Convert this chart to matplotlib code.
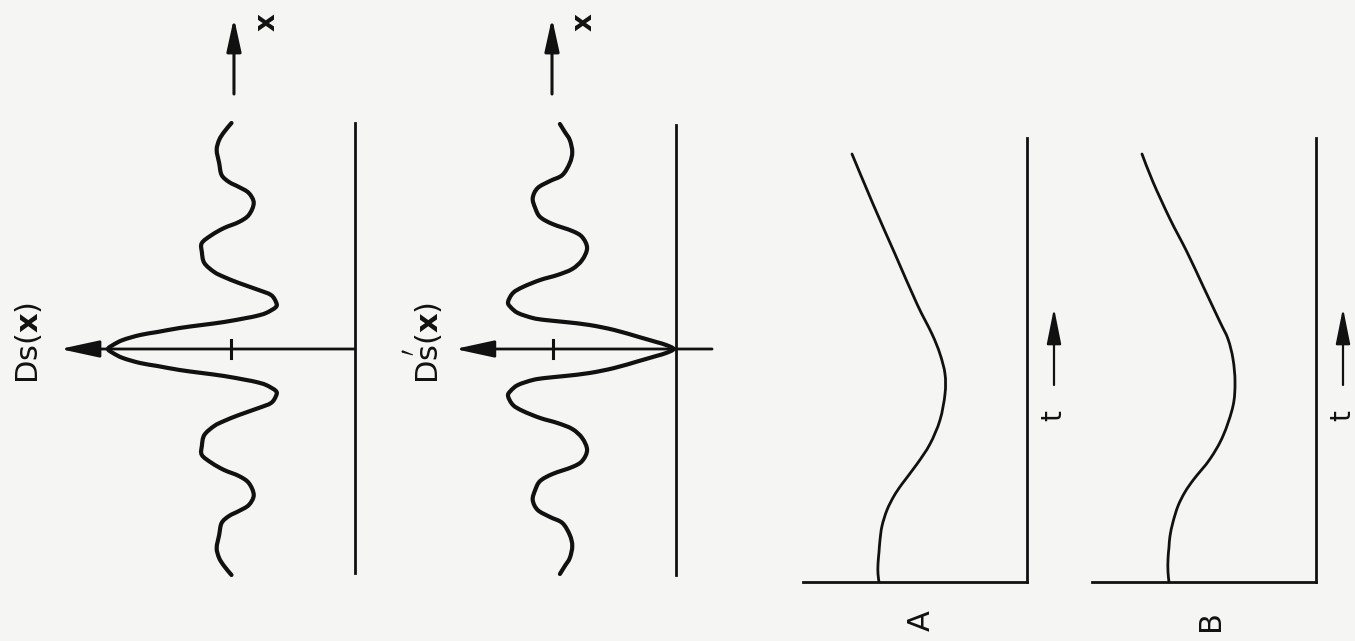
"""Ds(x) / D's(x) 分布と A, B の時間変化を描いた模式図 (90度回転した配置)."""

import matplotlib

matplotlib.use("Agg")

import matplotlib.pyplot as plt
import numpy as np
from matplotlib.patches import PathPatch
from matplotlib.path import Path

W, H = 1355, 641
BG = "#f5f5f3"
INK = "#111111"

# Ds(x): 片側プロファイル (x=0 について対称), D はピーク値で規格化
X1_HALF = [0, 4, 9, 14, 17, 21, 24, 27, 31, 33, 36, 42, 47, 54, 59, 66, 72, 77,
           86, 97, 106, 114, 121, 127, 134, 146, 156, 162, 167, 174, 186, 199,
           209, 217, 226]
DS_HALF = [1.00, 0.98, 0.94, 0.87, 0.80, 0.71, 0.62, 0.53, 0.44, 0.40, 0.36,
           0.32, 0.32, 0.34, 0.39, 0.47, 0.53, 0.57, 0.61, 0.62, 0.62, 0.58,
           0.53, 0.47, 0.43, 0.41, 0.43, 0.47, 0.51, 0.54, 0.55, 0.56, 0.55,
           0.53, 0.50]

# D's(x): 片側プロファイル
X2_HALF = [0, 4, 7, 12, 19, 24, 27, 29, 31, 36, 42, 47, 56, 62, 69, 74, 80, 89,
           101, 112, 118, 125, 132, 141, 151, 161, 168, 174, 186, 197, 209, 217,
           225]
DPS_HALF = [0.01, 0.04, 0.08, 0.15, 0.25, 0.35, 0.45, 0.53, 0.58, 0.64, 0.67,
            0.68, 0.66, 0.62, 0.55, 0.48, 0.42, 0.38, 0.36, 0.38, 0.42, 0.50,
            0.55, 0.57, 0.58, 0.56, 0.51, 0.46, 0.43, 0.42, 0.43, 0.45, 0.47]

# A, B: 時間 t に対する値
T_A = [0, 8, 18, 30, 42, 56, 72, 86, 98, 118, 138, 162, 188, 208, 228, 248,
       278, 328, 378, 428]
V_A = [148, 149, 149, 148, 147, 145, 140, 133, 125, 110, 97, 87, 82, 82, 87,
       95, 110, 132, 154, 175]
T_B = [0, 10, 23, 35, 46, 60, 76, 90, 103, 123, 146, 176, 200, 223, 243, 260,
       296, 330, 363, 400, 428]
V_B = [147, 148, 148, 147, 146, 143, 138, 131, 122, 106, 93, 83, 81, 83, 88,
       96, 113, 129, 146, 163, 174]


def mirror(xs, ys):
    xs, ys = np.asarray(xs, float), np.asarray(ys, float)
    return np.r_[-xs[:0:-1], xs], np.r_[ys[:0:-1], ys]


def smooth_curve(ax, xs, ys, lw):
    """読み取った点を通る滑らかな線 (Catmull-Rom をベジェで描画)."""
    p = np.column_stack([xs, ys]).astype(float)
    n = len(p)
    verts, codes = [p[0]], [Path.MOVETO]
    for i in range(n - 1):
        p0 = p[i - 1] if i > 0 else p[i]
        p3 = p[i + 2] if i + 2 < n else p[i + 1]
        verts += [p[i] + (p[i + 1] - p0) / 6, p[i + 1] - (p3 - p[i]) / 6, p[i + 1]]
        codes += [Path.CURVE4] * 3
    ax.add_patch(PathPatch(Path(verts, codes), fill=False, edgecolor=INK,
                           lw=lw, capstyle="round", joinstyle="round"))


def panel(fig, left_px, right_px, zero_px, unit_px, top_px):
    """横方向: 値 (左向きに増加), 縦方向: 位置/時間 (上向き)."""
    ax = fig.add_axes([left_px / W, 0, (right_px - left_px) / W, 1])
    ax.set_xlim((zero_px - left_px) / unit_px, (zero_px - right_px) / unit_px)
    ax.set_ylim(-(H - top_px), top_px)
    ax.axis("off")
    ax.patch.set_alpha(0)
    return ax


def arrow(ax, start, tip, lw=2.0, hl=1.1, hw=0.3):
    ax.annotate(
        "", xy=tip, xytext=start,
        arrowprops=dict(
            arrowstyle=f"-|>,head_length={hl},head_width={hw}",
            lw=lw, color=INK, shrinkA=0, shrinkB=0, mutation_scale=20,
        ),
    )


fig = plt.figure(figsize=(W / 100, H / 100), dpi=100, facecolor=BG)
plt.rcParams["mathtext.fontset"] = "dejavusans"

# --- Ds(x) ---
ax1 = panel(fig, 0, 380, 355, 247, 349)
x1, d1 = mirror(X1_HALF, DS_HALF)
smooth_curve(ax1, d1, x1, lw=3.0)
ax1.plot([0, 0], [-224, 226], color=INK, lw=2.0)
arrow(ax1, (0, 0), (1.194, 0), lw=2.0, hl=1.2, hw=0.26)
ax1.plot([0.5, 0.5], [-9, 9], color=INK, lw=2.2)
arrow(ax1, (0.49, 255), (0.49, 331), lw=2.2, hl=1.0, hw=0.22)
ax1.text(0.36, 327, "x", rotation=90, ha="center", va="center",
         fontsize=20, fontweight="bold", color=INK)
ax1.text(1.32, 6, r"$\mathrm{Ds}(\mathbf{x})$", rotation=90, ha="center",
         va="center", fontsize=22, color=INK)

# --- D's(x) ---
ax2 = panel(fig, 380, 730, 676, 247, 349)
x2, d2 = mirror(X2_HALF, DPS_HALF)
smooth_curve(ax2, d2, x2, lw=3.0)
ax2.plot([0, 0], [-226, 224], color=INK, lw=2.0)
arrow(ax2, (-0.146, 0), (0.895, 0), lw=2.0, hl=1.2, hw=0.26)
ax2.plot([0.498, 0.498], [-9, 9], color=INK, lw=2.2)
arrow(ax2, (0.502, 255), (0.502, 331), lw=2.2, hl=1.0, hw=0.22)
ax2.text(0.376, 327, "x", rotation=90, ha="center", va="center",
         fontsize=20, fontweight="bold", color=INK)
ax2.text(1.024, 6, r"$\mathrm{D}\overset{\prime}{\mathrm{s}}(\mathbf{x})$",
         rotation=90, ha="center", va="center", fontsize=22, color=INK)

# --- A, B ---
for (left, right, zero, ts, vs, name) in [
    (730, 1070, 1027, T_A, V_A, "A"),
    (1070, 1355, 1316, T_B, V_B, "B"),
]:
    ax = panel(fig, left, right, zero, 1, 582)
    smooth_curve(ax, vs, ts, lw=2.0)
    ax.plot([0, 0], [0, 444], color=INK, lw=2.0)
    ax.plot([0, 224], [0, 0], color=INK, lw=2.0)
    arrow(ax, (-27, 197), (-27, 274), lw=1.6, hl=1.1, hw=0.22)
    ax.text(-26, 166, "t", rotation=90, ha="center", va="center",
            fontsize=20, color=INK)
    ax.text(106, -39, name, rotation=90, ha="center", va="center",
            fontsize=22, color=INK)

fig.savefig("out.png", dpi=100, facecolor=BG)
